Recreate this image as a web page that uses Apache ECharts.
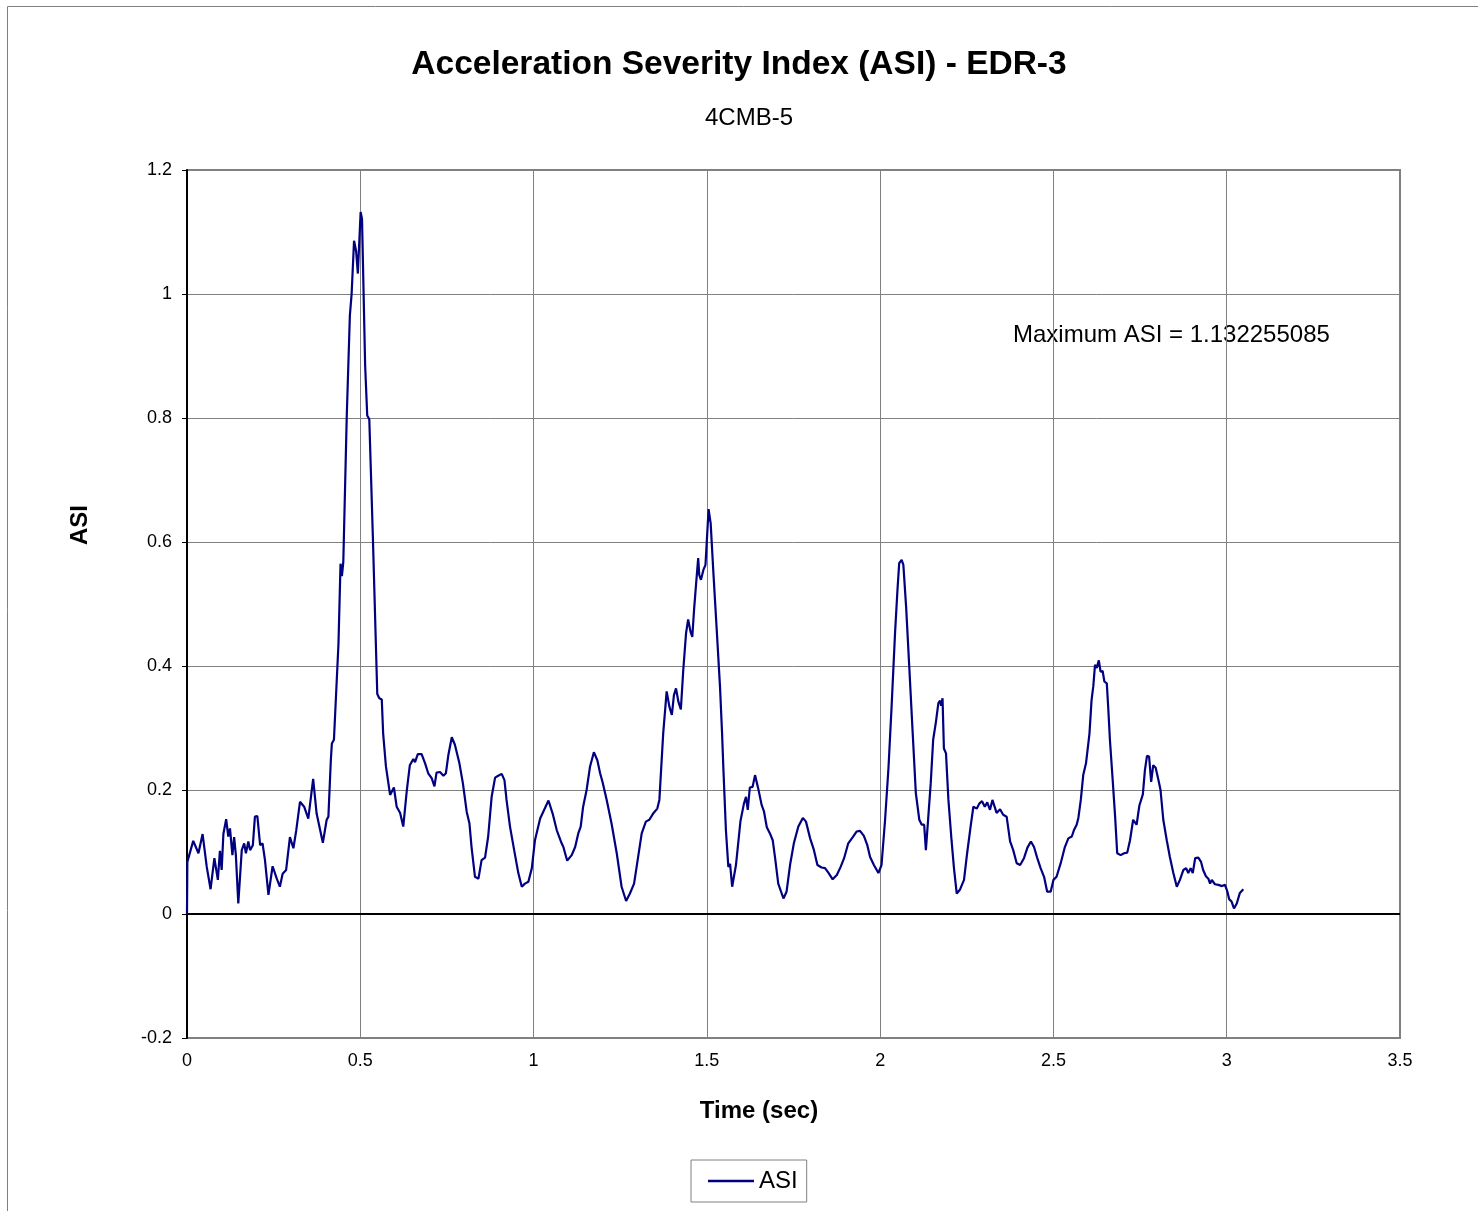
<!DOCTYPE html>
<html>
<head>
<meta charset="utf-8">
<title>Acceleration Severity Index (ASI) - EDR-3</title>
<script src="https://cdn.jsdelivr.net/npm/echarts@6/dist/echarts.min.js"></script>
<style>
  html, body { margin: 0; padding: 0; background: #ffffff; }
  #chart { width: 1478px; height: 1211px; }
</style>
</head>
<body>
<div id="chart"></div>
<script>
// ASI time history, 4CMB-5, EDR-3
var timeSec = [
  0, 0.001, 0.004, 0.018, 0.033, 0.045, 0.057, 0.068, 0.079, 0.089,
  0.095, 0.100, 0.105, 0.113, 0.119, 0.124, 0.131, 0.136, 0.141, 0.148,
  0.158, 0.165, 0.170, 0.177, 0.182, 0.190, 0.196, 0.203, 0.211, 0.218,
  0.225, 0.235, 0.247, 0.259, 0.268, 0.276, 0.286, 0.297, 0.307, 0.315,
  0.326, 0.338, 0.350, 0.364, 0.374, 0.392, 0.403, 0.408, 0.415, 0.418,
  0.424, 0.437, 0.443, 0.447, 0.451, 0.461, 0.470, 0.475, 0.482, 0.488,
  0.493, 0.501, 0.505, 0.514, 0.520, 0.526, 0.536, 0.549, 0.555, 0.562,
  0.566, 0.574, 0.586, 0.597, 0.605, 0.615, 0.624, 0.634, 0.643, 0.653,
  0.658, 0.666, 0.677, 0.687, 0.696, 0.706, 0.714, 0.720, 0.730, 0.740,
  0.747, 0.754, 0.764, 0.773, 0.786, 0.796, 0.807, 0.815, 0.821, 0.831,
  0.841, 0.850, 0.860, 0.869, 0.879, 0.889, 0.898, 0.908, 0.916, 0.922,
  0.932, 0.944, 0.956, 0.966, 0.975, 0.985, 0.995, 1.004, 1.019, 1.028,
  1.043, 1.055, 1.067, 1.081, 1.086, 1.097, 1.110, 1.120, 1.129, 1.136,
  1.143, 1.153, 1.163, 1.174, 1.184, 1.192, 1.199, 1.211, 1.225, 1.240,
  1.254, 1.267, 1.278, 1.290, 1.299, 1.312, 1.324, 1.334, 1.345, 1.357,
  1.363, 1.374, 1.384, 1.392, 1.399, 1.405, 1.411, 1.418, 1.425, 1.432,
  1.440, 1.446, 1.453, 1.458, 1.463, 1.469, 1.475, 1.478, 1.483, 1.490,
  1.496, 1.500, 1.505, 1.511, 1.519, 1.528, 1.538, 1.544, 1.548, 1.555,
  1.562, 1.567, 1.573, 1.584, 1.597, 1.607, 1.613, 1.618, 1.624, 1.632,
  1.639, 1.648, 1.658, 1.665, 1.673, 1.682, 1.690, 1.697, 1.706, 1.721,
  1.730, 1.740, 1.751, 1.764, 1.777, 1.786, 1.798, 1.809, 1.819, 1.831,
  1.841, 1.850, 1.863, 1.875, 1.886, 1.896, 1.908, 1.921, 1.932, 1.942,
  1.953, 1.963, 1.971, 1.982, 1.995, 2.004, 2.014, 2.024, 2.033, 2.043,
  2.050, 2.055, 2.062, 2.067, 2.075, 2.084, 2.094, 2.103, 2.113, 2.120,
  2.127, 2.132, 2.139, 2.146, 2.153, 2.161, 2.168, 2.173, 2.176, 2.180,
  2.184, 2.190, 2.197, 2.206, 2.213, 2.221, 2.230, 2.242, 2.251, 2.261,
  2.269, 2.279, 2.286, 2.294, 2.302, 2.309, 2.317, 2.324, 2.329, 2.336,
  2.346, 2.355, 2.365, 2.375, 2.384, 2.394, 2.404, 2.415, 2.425, 2.435,
  2.444, 2.453, 2.463, 2.473, 2.482, 2.492, 2.500, 2.509, 2.521, 2.533,
  2.543, 2.553, 2.559, 2.567, 2.572, 2.579, 2.586, 2.594, 2.604, 2.610,
  2.615, 2.620, 2.625, 2.631, 2.636, 2.642, 2.647, 2.654, 2.658, 2.663,
  2.671, 2.678, 2.684, 2.694, 2.704, 2.713, 2.721, 2.730, 2.735, 2.740,
  2.748, 2.758, 2.764, 2.770, 2.776, 2.782, 2.788, 2.795, 2.803, 2.809,
  2.817, 2.827, 2.836, 2.846, 2.856, 2.865, 2.875, 2.883, 2.889, 2.896,
  2.902, 2.909, 2.918, 2.926, 2.932, 2.940, 2.947, 2.952, 2.957, 2.966,
  2.976, 2.986, 2.995, 3.002, 3.007, 3.014, 3.021, 3.029, 3.038, 3.048
];

var asiValues = [
  0.000, 0.084, 0.084, 0.118, 0.098, 0.129, 0.076, 0.040, 0.090, 0.055,
  0.102, 0.071, 0.129, 0.153, 0.125, 0.138, 0.095, 0.124, 0.095, 0.017,
  0.103, 0.114, 0.098, 0.117, 0.103, 0.111, 0.157, 0.158, 0.111, 0.114,
  0.087, 0.031, 0.077, 0.057, 0.044, 0.065, 0.071, 0.124, 0.106, 0.134,
  0.181, 0.173, 0.154, 0.218, 0.162, 0.115, 0.152, 0.157, 0.248, 0.275,
  0.281, 0.435, 0.565, 0.545, 0.568, 0.804, 0.966, 1.000, 1.086, 1.069,
  1.033, 1.132255085, 1.121, 0.885, 0.804, 0.798, 0.614, 0.355, 0.348, 0.346,
  0.291, 0.238, 0.192, 0.204, 0.173, 0.163, 0.141, 0.198, 0.240, 0.250,
  0.245, 0.258, 0.258, 0.243, 0.227, 0.219, 0.206, 0.228, 0.229, 0.223,
  0.227, 0.256, 0.285, 0.273, 0.243, 0.211, 0.165, 0.146, 0.108, 0.060,
  0.057, 0.087, 0.091, 0.125, 0.189, 0.220, 0.223, 0.226, 0.216, 0.184,
  0.141, 0.103, 0.066, 0.044, 0.049, 0.052, 0.074, 0.119, 0.154, 0.165,
  0.183, 0.162, 0.135, 0.114, 0.108, 0.086, 0.095, 0.108, 0.130, 0.141,
  0.173, 0.200, 0.238, 0.261, 0.248, 0.227, 0.213, 0.184, 0.146, 0.098,
  0.044, 0.021, 0.033, 0.049, 0.082, 0.130, 0.149, 0.152, 0.162, 0.170,
  0.184, 0.291, 0.359, 0.334, 0.321, 0.353, 0.364, 0.342, 0.330, 0.394,
  0.453, 0.475, 0.455, 0.447, 0.490, 0.533, 0.574, 0.547, 0.539, 0.555,
  0.563, 0.603, 0.653, 0.630, 0.549, 0.463, 0.366, 0.290, 0.230, 0.135,
  0.076, 0.081, 0.044, 0.079, 0.150, 0.178, 0.189, 0.168, 0.204, 0.205,
  0.224, 0.203, 0.176, 0.165, 0.140, 0.130, 0.119, 0.090, 0.049, 0.025,
  0.036, 0.079, 0.114, 0.141, 0.155, 0.149, 0.122, 0.103, 0.079, 0.075,
  0.074, 0.067, 0.056, 0.063, 0.076, 0.090, 0.114, 0.124, 0.133, 0.134,
  0.126, 0.111, 0.092, 0.079, 0.066, 0.079, 0.150, 0.235, 0.334, 0.453,
  0.523, 0.566, 0.571, 0.563, 0.495, 0.399, 0.291, 0.195, 0.152, 0.144,
  0.144, 0.103, 0.157, 0.211, 0.281, 0.310, 0.340, 0.344, 0.336, 0.348,
  0.267, 0.259, 0.184, 0.119, 0.074, 0.033, 0.039, 0.055, 0.098, 0.141,
  0.173, 0.170, 0.178, 0.182, 0.173, 0.180, 0.168, 0.184, 0.185, 0.163,
  0.169, 0.160, 0.157, 0.117, 0.103, 0.082, 0.079, 0.090, 0.107, 0.117,
  0.108, 0.091, 0.074, 0.060, 0.036, 0.036, 0.055, 0.060, 0.082, 0.108,
  0.122, 0.125, 0.135, 0.144, 0.155, 0.184, 0.224, 0.243, 0.291, 0.345,
  0.367, 0.402, 0.397, 0.409, 0.391, 0.392, 0.375, 0.372, 0.334, 0.281,
  0.216, 0.157, 0.098, 0.095, 0.098, 0.099, 0.119, 0.152, 0.155, 0.144,
  0.175, 0.193, 0.232, 0.255, 0.254, 0.213, 0.240, 0.236, 0.216, 0.200,
  0.152, 0.119, 0.092, 0.066, 0.044, 0.055, 0.071, 0.074, 0.066, 0.074,
  0.066, 0.090, 0.091, 0.084, 0.071, 0.061, 0.057, 0.049, 0.055, 0.048,
  0.047, 0.045, 0.047, 0.036, 0.024, 0.020, 0.009, 0.017, 0.034, 0.040
];

var xTicks = { min: 0, max: 3.5, step: 0.5 };
var yTicks = { min: -0.2, max: 1.2, step: 0.2 };

var chartTitle = 'Acceleration Severity Index (ASI) - EDR-3';
var chartSubtitle = '4CMB-5';
var xTitle = 'Time (sec)';
var yTitle = 'ASI';
var seriesName = 'ASI';

var FONT = '"Liberation Sans", Arial, Helvetica, sans-serif';
var GRID_GRAY = '#808080';

var points = timeSec.map(function (t, i) { return [t, asiValues[i]]; });
var peak = Math.max.apply(null, asiValues);

var chart = echarts.init(document.getElementById('chart'), null, { renderer: 'canvas' });

chart.setOption({
  backgroundColor: '#ffffff',
  animation: false,
  textStyle: { fontFamily: FONT },
  grid: {
    left: 187, top: 170, right: 78, bottom: 173,
    show: true,
    borderColor: GRID_GRAY,
    borderWidth: 2,
    containLabel: false
  },
  xAxis: {
    type: 'value',
    min: xTicks.min, max: xTicks.max, interval: xTicks.step,
    axisLine: { show: false, onZero: false },
    axisTick: { show: false },
    axisLabel: { color: '#000', fontSize: 18, fontFamily: FONT, margin: 14 },
    splitLine: { show: true, lineStyle: { color: GRID_GRAY, width: 1 } }
  },
  yAxis: {
    type: 'value',
    min: yTicks.min, max: yTicks.max, interval: yTicks.step,
    axisLine: { show: true, onZero: false, lineStyle: { color: '#000', width: 2 } },
    axisTick: { show: true, length: 5, inside: false, lineStyle: { color: '#000', width: 1 } },
    axisLabel: { color: '#000', fontSize: 18, fontFamily: FONT, margin: 15 },
    splitLine: { show: true, lineStyle: { color: GRID_GRAY, width: 1 } }
  },
  legend: {
    show: true,
    left: 691, top: 1160,
    orient: 'horizontal',
    backgroundColor: '#ffffff',
    borderColor: GRID_GRAY,
    borderWidth: 1,
    borderRadius: 0,
    padding: [9, 9, 9, 17],
    itemWidth: 46, itemHeight: 2.5, itemGap: 4,
    textStyle: { color: '#000', fontSize: 24, fontFamily: FONT, padding: [0, 0, 0, 0] },
    data: [{ name: seriesName, icon: 'rect' }]
  },
  series: [{
    name: seriesName,
    type: 'line',
    data: points,
    showSymbol: false,
    symbol: 'none',
    smooth: false,
    lineStyle: { color: '#000080', width: 2.2 },
    itemStyle: { color: '#000080' },
    clip: true,
    z: 3,
    markLine: {
      silent: true,
      symbol: ['none', 'none'],
      label: { show: false },
      lineStyle: { color: '#000', width: 2, type: 'solid' },
      data: [{ yAxis: 0 }],
      z: 2
    }
  }],
  graphic: [
    {
      type: 'rect', silent: true, z: -10,
      shape: { x: 7.5, y: 6.5, width: 1600, height: 1400 },
      style: { fill: 'none', stroke: GRID_GRAY, lineWidth: 1 }
    },
    {
      type: 'text', silent: true,
      style: { text: chartTitle, x: 739, y: 65, align: 'center', verticalAlign: 'middle',
               font: 'bold 33.5px ' + FONT, fill: '#000' }
    },
    {
      type: 'text', silent: true,
      style: { text: chartSubtitle, x: 749, y: 118, align: 'center', verticalAlign: 'middle',
               font: '24px ' + FONT, fill: '#000' }
    },
    {
      type: 'text', silent: true,
      style: { text: xTitle, x: 759, y: 1111, align: 'center', verticalAlign: 'middle',
               font: 'bold 24px ' + FONT, fill: '#000' }
    },
    {
      type: 'text', silent: true,
      x: 80, y: 525, rotation: Math.PI / 2,
      style: { text: yTitle, x: 0, y: 0, align: 'center', verticalAlign: 'middle',
               font: 'bold 24px ' + FONT, fill: '#000' }
    },
    {
      type: 'text', silent: true,
      style: { text: 'Maximum ASI = ' + peak, x: 1013, y: 335, align: 'left', verticalAlign: 'middle',
               font: '24px ' + FONT, fill: '#000' }
    }
  ]
});
</script>
</body>
</html>
